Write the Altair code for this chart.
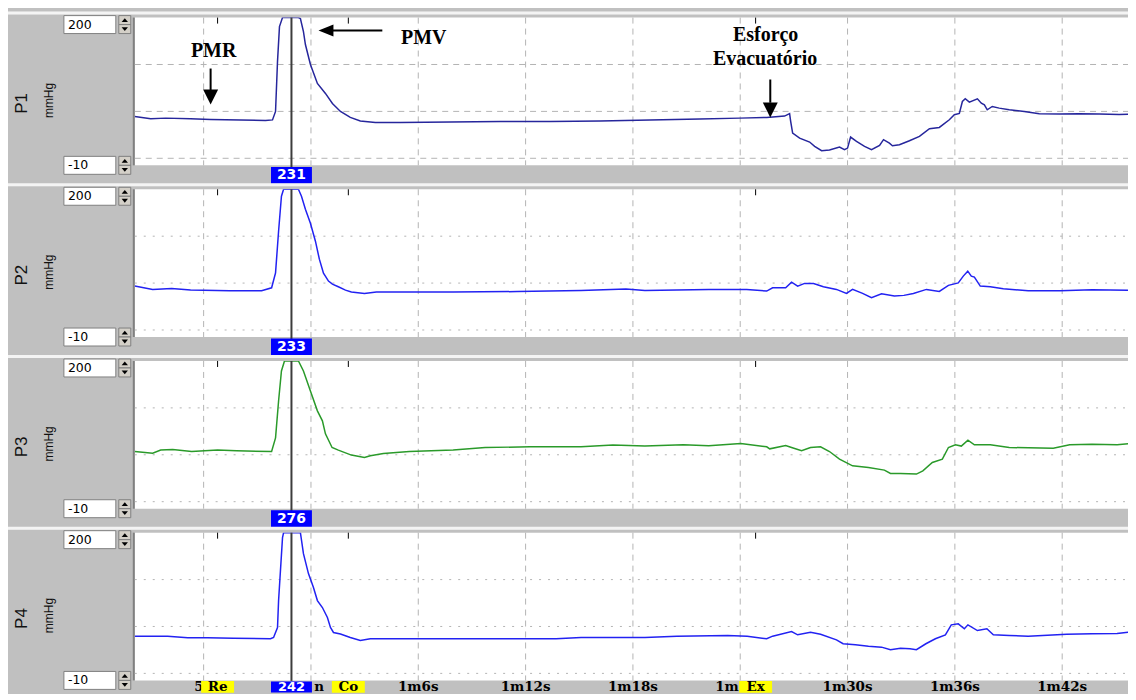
import altair as alt
import pandas as pd

# ---------------- data ----------------
T_MIN, T_MAX = 50.15, 106.07          # seconds shown in the window
V_MIN, V_MAX = -10, 200               # mmHg range of every channel

CHANNELS = ["P1", "P2", "P3", "P4"]
UNIT = "mmHg"
RANGE_TOP = "200"
RANGE_BOTTOM = "-10"
CURSOR_VALUES = ["231", "233", "276", "242"]
CURSOR_T = 58.91

GRID_T = [54, 60, 66, 72, 78, 84, 90, 96, 102]
GRID_V = [0, 66.67, 133.33]
TICK_T = [66, 72, 78, 90, 96, 102]
TICK_LABELS = ["1m6s", "1m12s", "1m18s", "1m30s", "1m36s", "1m42s"]
# parts of tick labels left visible beside the event / cursor boxes
FRAG_RIGHT_T = [54.0, 83.92]
FRAG_RIGHT_LABELS = ["5", "1m"]
FRAG_LEFT_T = [60.18]
FRAG_LEFT_LABELS = ["n"]
EVENT_T = [54.78, 62.09, 84.86]
EVENT_LABELS = ["Re", "Co", "Ex"]

P1_T = [50.15, 51.04, 51.88, 53.27, 54.39, 56.07, 57.46, 57.85, 58.02, 58.13, 58.24, 58.41, 59.30, 59.41,
        59.58, 59.69, 59.97, 60.36, 60.81, 61.20, 61.65, 62.20, 62.76, 63.60, 64.99, 67.79, 70.58, 73.37,
        76.16, 78.95, 81.74, 83.97, 85.48, 86.48, 86.76, 86.82, 86.93, 87.32, 87.88, 88.16, 88.55, 88.99,
        89.55, 89.83, 90.00, 90.17, 90.50, 90.95, 91.34, 91.79, 92.01, 92.34, 92.51, 92.90, 93.46, 94.02,
        94.58, 95.13, 95.69, 95.97, 96.25, 96.42, 96.58, 96.81, 97.26, 97.48, 97.65, 97.81, 98.09, 98.48,
        99.04, 99.88, 100.72, 101.83, 102.95, 104.07, 105.18, 106.07]
P1_V = [59.5, 56.3, 57.1, 56.3, 55.3, 54.3, 53.9, 54.6, 66.6, 137.6, 187.2, 200, 200, 198.6,
        180.1, 161.7, 133.3, 106.4, 92.2, 78.0, 66.6, 58.1, 53.1, 51.0, 51.0, 51.7, 52.4, 52.4,
        53.1, 54.6, 56.0, 57.1, 58.1, 60.0, 63.4, 52.4, 35.8, 28.7, 23.1, 17.0, 10.9, 11.7,
        16.0, 12.3, 14.5, 30.2, 24.1, 17.0, 12.3, 18.4, 26.5, 21.6, 17.9, 19.4, 25.0, 31.2,
        42.1, 43.9, 54.8, 61.9, 63.8, 80.8, 84.6, 79.8, 84.6, 78.4, 76.1, 69.0, 73.7, 71.3,
        69.0, 66.6, 63.4, 62.8, 63.4, 62.8, 62.4, 62.8]

P2_T = [50.15, 51.15, 52.21, 53.27, 55.45, 57.24, 57.80, 58.02, 58.19, 58.35, 58.47, 59.30, 59.47, 59.69,
        59.97, 60.25, 60.47, 60.70, 60.98, 61.20, 61.53, 61.93, 62.26, 62.99, 63.66, 67.95, 71.53, 75.10,
        77.61, 78.67, 82.24, 84.36, 85.48, 85.81, 86.54, 86.87, 87.21, 87.60, 88.10, 88.65, 89.38, 89.94,
        90.28, 90.84, 91.34, 91.90, 92.62, 93.15, 93.68, 94.41, 95.13, 95.64, 96.19, 96.47, 96.72, 96.92,
        97.09, 97.42, 97.98, 98.71, 100.10, 101.89, 103.67, 106.07]
P2_V = [62.4, 57.7, 59.1, 56.7, 55.7, 55.7, 60.0, 81.2, 140.4, 190.1, 200, 200, 190.1, 171.6,
        151.8, 126.2, 100.7, 80.8, 69.5, 65.2, 61.4, 56.7, 53.9, 52.0, 54.1, 54.1, 54.6, 56.0,
        58.1, 56.3, 57.7, 57.7, 55.3, 60.0, 60.0, 68.0, 62.4, 66.2, 66.2, 61.4, 57.7, 52.0,
        57.7, 52.0, 45.8, 51.4, 48.2, 49.2, 52.0, 57.7, 54.8, 63.4, 67.0, 76.6, 83.6, 76.6,
        75.1, 62.4, 61.4, 58.5, 55.7, 55.7, 57.1, 56.3]

P3_T = [50.15, 51.15, 51.60, 52.27, 53.33, 54.78, 55.84, 57.80, 58.02, 58.19, 58.35, 58.52, 59.30, 59.58,
        59.97, 60.36, 60.64, 60.81, 61.18, 61.53, 62.26, 62.99, 63.32, 64.05, 65.50, 67.95, 69.74, 72.25,
        75.10, 76.88, 78.67, 80.82, 82.24, 84.03, 85.48, 85.65, 86.54, 86.87, 87.43, 87.93, 88.49, 88.99,
        89.55, 90.28, 91.17, 92.06, 92.40, 92.96, 93.85, 94.21, 94.74, 95.30, 95.64, 96.03, 96.36, 96.73,
        97.09, 97.98, 99.04, 101.50, 102.42, 103.67, 105.07, 106.07]
P3_V = [71.3, 69.0, 73.3, 74.1, 71.3, 73.3, 72.3, 71.3, 90.7, 143.2, 185.8, 200, 200, 185.8,
        157.4, 129.1, 114.9, 96.4, 77.0, 73.3, 66.2, 62.8, 65.2, 68.5, 71.3, 73.3, 77.0, 78.0,
        78.0, 80.4, 79.0, 80.8, 79.4, 82.7, 78.0, 75.1, 79.8, 77.0, 72.3, 77.0, 78.0, 71.3,
        60.5, 51.0, 48.6, 44.9, 40.1, 40.1, 39.2, 43.9, 55.7, 60.5, 77.0, 80.8, 79.0, 87.5,
        80.8, 80.8, 77.0, 76.1, 80.8, 81.8, 80.8, 83.6]

P4_T = [50.15, 51.99, 53.11, 54.22, 55.67, 57.74, 57.91, 58.13, 58.19, 58.41, 58.47, 59.41, 59.58, 59.86,
        60.14, 60.36, 60.64, 60.92, 61.09, 61.26, 61.65, 62.20, 62.76, 63.32, 66.20, 71.55, 73.70, 75.10,
        78.67, 80.46, 83.30, 84.39, 85.48, 85.81, 86.87, 87.21, 87.93, 88.49, 89.38, 89.75, 90.44, 91.17,
        91.90, 92.40, 92.96, 93.49, 93.85, 94.38, 94.91, 95.47, 95.80, 96.19, 96.53, 96.73, 97.26, 97.79,
        98.15, 99.04, 100.10, 102.25, 103.67, 105.07, 106.07]
P4_V = [52.9, 52.9, 50.6, 50.6, 50.0, 49.2, 51.0, 65.2, 103.5, 192.9, 200, 200, 170.2, 141.8,
        122.0, 103.5, 93.6, 79.4, 65.2, 58.1, 56.0, 51.0, 46.8, 49.2, 49.2, 49.2, 49.2, 51.0,
        51.0, 52.9, 53.9, 52.9, 49.2, 52.9, 59.5, 54.8, 58.5, 55.7, 47.7, 42.1, 40.7, 38.7,
        37.3, 33.6, 35.8, 35.0, 33.6, 42.1, 49.2, 54.8, 69.0, 70.4, 63.4, 69.0, 60.9, 63.4,
        54.8, 53.9, 52.9, 55.7, 56.3, 56.7, 59.5]

TRACES_T = [P1_T, P2_T, P3_T, P4_T]
TRACES_V = [P1_V, P2_V, P3_V, P4_V]
LINE_COLORS = ["#26269c", "#2222f2", "#2a9a2a", "#2222f2"]

ANNOT_TEXT = ["PMR", "PMV", "Esforço", "Evacuatório"]
ANNOT_T = [54.56, 66.31, 85.42, 85.39]
ANNOT_V = [151.8, 171.6, 175.9, 141.8]
VARROW_T = [54.39, 85.68]
VARROW_V1 = [127.6, 112.0]
VARROW_V2 = [96.0, 79.0]
VARROW_HEAD_V = [87.2, 68.8]
HARROW_T1, HARROW_T2, HARROW_V, HARROW_HEAD_T = 61.09, 63.99, 181.6, 60.84

# ---------------- layout helpers ----------------
W, H = 1002, 148
GRAY = "#c0c0c0"
xs = alt.Scale(domain=[T_MIN, T_MAX], nice=False, zero=False)
ys = alt.Scale(domain=[V_MIN, V_MAX], nice=False, zero=False)
ONE = pd.DataFrame({"k": [0]})
UP = "M-1,0.6L1,0.6L0,-0.6Z"
DOWN = "M-1,-0.6L1,-0.6L0,0.6Z"
ARROW_DOWN = "M-1,-1L1,-1L0,1Z"
ARROW_LEFT = "M1,-0.8L1,0.8L-1,0Z"
AXIS_FONT = dict(font="DejaVu Serif", fontWeight="bold", fontSize=13.5, color="black", baseline="middle")


def X(f="t"):
    return alt.X(f"{f}:Q", scale=xs, axis=None)


def Y(f="v"):
    return alt.Y(f"{f}:Q", scale=ys, axis=None)


def rect(x1, x2, y1, y2, fill, stroke=""):
    kw = dict(fill=fill)
    if stroke:
        kw.update(stroke=stroke, strokeWidth=1)
    return alt.Chart(ONE).mark_rect(**kw).encode(
        x=alt.value(x1), x2=alt.value(x2), y=alt.value(y1), y2=alt.value(y2))


def label(text, x, y, **kw):
    return alt.Chart(ONE).mark_text(text=text, baseline="middle", **kw).encode(
        x=alt.value(x), y=alt.value(y))


def tri(path, x, y, size):
    return alt.Chart(ONE).mark_point(shape=path, filled=True, size=size, color="black",
                                     opacity=1, strokeWidth=0).encode(x=alt.value(x), y=alt.value(y))


def value_box(text, y1, y2):
    ym = (y1 + y2) / 2
    return [
        rect(-71, -19, y1, y2, "white", "#808080"),
        label(text, -67, ym, align="left", font="DejaVu Sans", fontSize=12.5, color="black"),
        rect(-16, -4, y1, ym, "#d4d0c8", "#808080"),
        rect(-16, -4, ym, y2, "#d4d0c8", "#808080"),
        tri(UP, -10, (y1 + ym) / 2, 40),
        tri(DOWN, -10, (ym + y2) / 2, 40),
    ]


def panel(i):
    last = i == 3
    layers = [rect(-134, W, -6, -3, "#f4f4f4"), rect(-134, W, -3, 168 if last else 167, GRAY)]
    if i == 0:
        layers += [rect(-134, W, -16, -12, "#ececec"), rect(-134, W, -12, -6, GRAY)]
    layers += [rect(0, W, 0, H, "white"), rect(-2, 0, 0, H, "#808080")]
    layers += value_box(RANGE_TOP, -2, 16) + value_box(RANGE_BOTTOM, 139, 157)
    layers += [
        label(CHANNELS[i], -113, 86, angle=270, align="center",
              font="'Liberation Sans Narrow', 'Liberation Sans', sans-serif", fontSize=17, color="#111"),
        label(UNIT, -86, 83, angle=270, align="center", font="Liberation Sans", fontSize=12, color="#111"),
    ]
    # grid
    layers.append(alt.Chart(pd.DataFrame({"t": GRID_T})).mark_rule(
        color="#b4b4b4", strokeDash=[6, 5], strokeWidth=1).encode(x=X(), y=alt.value(0), y2=alt.value(H)))
    layers.append(alt.Chart(pd.DataFrame({"v": GRID_V})).mark_rule(
        color="#b4b4b4", strokeDash=[6, 5] if i == 0 else [2, 7], strokeWidth=1).encode(
        y=Y(), x=alt.value(0), x2=alt.value(W)))
    # event ticks at top
    layers.append(alt.Chart(pd.DataFrame({"t": EVENT_T})).mark_rule(color="black", strokeWidth=1).encode(
        x=X(), y=alt.value(0), y2=alt.value(6)))
    # trace
    df = pd.DataFrame({"t": TRACES_T[i], "v": TRACES_V[i]})
    layers.append(alt.Chart(df).mark_line(color=LINE_COLORS[i], strokeWidth=1.5, clip=True).encode(
        x=X(), y=Y()))
    # cursor
    cur = pd.DataFrame({"t": [CURSOR_T]})
    cy = 154.5 if last else 158
    bh = 0.27 if last else 0.41
    layers.append(alt.Chart(cur).mark_rule(color="#3c3c3c", strokeWidth=2).encode(
        x=X(), y=alt.value(0), y2=alt.value(cy - 6)))
    if last:
        ticks = pd.DataFrame({"t": TICK_T, "label": TICK_LABELS})
        layers.append(alt.Chart(ticks).mark_text(**AXIS_FONT).encode(
            x=X(), y=alt.value(cy), text="label:N"))
        fr = pd.DataFrame({"t": FRAG_RIGHT_T, "label": FRAG_RIGHT_LABELS})
        layers.append(alt.Chart(fr).mark_text(align="right", **AXIS_FONT).encode(
            x=X(), y=alt.value(cy), text="label:N"))
        fl = pd.DataFrame({"t": FRAG_LEFT_T, "label": FRAG_LEFT_LABELS})
        layers.append(alt.Chart(fl).mark_text(align="left", **AXIS_FONT).encode(
            x=X(), y=alt.value(cy), text="label:N"))
        ev = pd.DataFrame({"t": EVENT_T, "label": EVENT_LABELS})
        layers.append(alt.Chart(ev).mark_point(shape="M-1,-0.36L1,-0.36L1,0.36L-1,0.36Z", filled=True,
                                               size=33 * 33, color="#ffff00", opacity=1, strokeWidth=0).encode(
            x=X(), y=alt.value(cy)))
        layers.append(alt.Chart(ev).mark_text(**AXIS_FONT).encode(
            x=X(), y=alt.value(cy), text="label:N"))
    layers.append(alt.Chart(cur).mark_point(shape=f"M-1,-{bh}L1,-{bh}L1,{bh}L-1,{bh}Z", filled=True,
                                            size=41 * 41, color="#0000ff", opacity=1, strokeWidth=0).encode(
        x=X(), y=alt.value(cy)))
    layers.append(alt.Chart(cur).mark_text(text=CURSOR_VALUES[i], font="DejaVu Sans", fontWeight="bold",
                                           fontSize=13 if last else 14, color="white",
                                           baseline="middle").encode(x=X(), y=alt.value(cy)))
    if i == 0:
        ann = pd.DataFrame({"t": ANNOT_T, "v": ANNOT_V, "txt": ANNOT_TEXT})
        layers.append(alt.Chart(ann).mark_text(font="Liberation Serif", fontWeight="bold", fontSize=20,
                                               color="black", baseline="middle").encode(
            x=X(), y=Y(), text="txt:N"))
        va = pd.DataFrame({"t": VARROW_T, "v1": VARROW_V1, "v2": VARROW_V2, "vh": VARROW_HEAD_V})
        layers.append(alt.Chart(va).mark_rule(color="black", strokeWidth=2).encode(
            x=X(), y=Y("v1"), y2="v2:Q"))
        layers.append(alt.Chart(va).mark_point(shape=ARROW_DOWN, filled=True, size=225, color="black",
                                               opacity=1, strokeWidth=0).encode(x=X(), y=Y("vh")))
        ha = pd.DataFrame({"t1": [HARROW_T1], "t2": [HARROW_T2], "v": [HARROW_V], "th": [HARROW_HEAD_T]})
        layers.append(alt.Chart(ha).mark_rule(color="black", strokeWidth=2).encode(
            x=X("t1"), x2="t2:Q", y=Y()))
        layers.append(alt.Chart(ha).mark_point(shape=ARROW_LEFT, filled=True, size=225, color="black",
                                               opacity=1, strokeWidth=0).encode(x=X("th"), y=Y()))
    return alt.layer(*layers).properties(width=W, height=H)


chart = alt.vconcat(*[panel(i) for i in range(4)], spacing=24, bounds="flush").properties(
    padding={"left": -8, "top": -8, "right": -8, "bottom": -8}
).configure_view(stroke="transparent")

chart.save("out.html", embed_options={"renderer": "svg", "actions": False})
